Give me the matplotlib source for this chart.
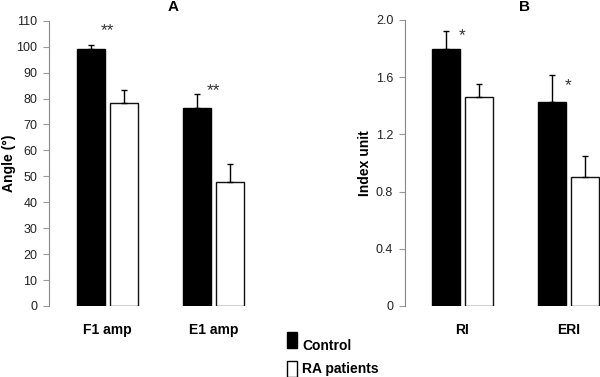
import matplotlib.pyplot as plt
import numpy as np
from matplotlib.patches import Rectangle

plt.rcParams['font.family'] = ['Liberation Sans', 'DejaVu Sans']

# panel A
cats_a = ['F1 amp', 'E1 amp']
control_a = [99.2, 76.2]
control_a_err = [1.6, 5.4]
ra_a = [78.2, 47.9]
ra_a_err = [5.1, 6.9]
stars_a = ['**', '**']
stars_a_y = [106.0, 83.0]

# panel B
cats_b = ['RI', 'ERI']
control_b = [1.80, 1.43]
control_b_err = [0.125, 0.185]
ra_b = [1.465, 0.905]
ra_b_err = [0.088, 0.145]
stars_b = ['*', '*']
stars_b_y = [1.89, 1.54]

legend_labels = ['Control', 'RA patients']
legend_colors = ['black', 'white']

W, H = 600, 377
fig = plt.figure(figsize=(W / 100, H / 100), dpi=100)

def px_axes(x0, y0, x1, y1):
    # pixel box (top-left origin) -> figure axes
    return fig.add_axes([x0 / W, 1 - y1 / H, (x1 - x0) / W, (y1 - y0) / H])

bw = 0.264
off = 0.156

def panel(ax, cats, ctrl, ctrl_err, ra, ra_err, stars, stars_y, xlim):
    x = np.arange(len(cats))
    kw = dict(capsize=2.5, error_kw=dict(elinewidth=1, capthick=1, ecolor='black'))
    ax.bar(x - off, ctrl, bw, color='black', edgecolor='black', linewidth=1,
           yerr=[np.zeros(len(ctrl)), ctrl_err], **kw)
    ax.bar(x + off, ra, bw, color='white', edgecolor='#111111', linewidth=1,
           yerr=[np.zeros(len(ra)), ra_err], **kw)
    for xi, s, sy in zip(x, stars, stars_y):
        ax.text(xi, sy, s, ha='center', va='center', fontsize=12.5, color='#333333')
    ax.set_xlim(*xlim)
    ax.set_xticks(x)
    ax.set_xticklabels(cats, fontsize=10, fontweight='bold')
    ax.tick_params(axis='x', length=0, pad=12)
    ax.tick_params(axis='y', length=4, width=0.8, color='#999999', labelsize=9,
                   labelcolor='#222222', pad=4.5)
    for s in ['top', 'right', 'bottom']:
        ax.spines[s].set_visible(False)
    ax.spines['left'].set_color('#888888')
    ax.spines['left'].set_linewidth(0.8)

ax1 = px_axes(49, 20.7, 260, 306)
panel(ax1, cats_a, control_a, control_a_err, ra_a, ra_a_err, stars_a, stars_a_y, (-0.552, 1.44))
ax1.set_ylim(0, 110)
ax1.set_yticks(np.arange(0, 111, 10))
ax1.set_ylabel('Angle (°)', fontsize=10, fontweight='bold', va='center')
ax1.yaxis.set_label_coords((9 - 49) / 211, 0.5)

ax2 = px_axes(405, 20, 600, 306)
panel(ax2, cats_b, control_b, control_b_err, ra_b, ra_b_err, stars_b, stars_b_y, (-0.542, 1.297))
ax2.set_ylim(0, 2.0)
ax2.set_yticks([0, 0.4, 0.8, 1.2, 1.6, 2.0])
ax2.set_yticklabels(['0', '0.4', '0.8', '1.2', '1.6', '2.0'])
ax2.set_ylabel('Index unit', fontsize=10, fontweight='bold', va='center')
ax2.yaxis.set_label_coords((365 - 405) / 195, 0.5)

fig.text(173 / W, 1 - 7 / H, 'A', ha='center', va='center', fontsize=11, fontweight='bold')
fig.text(525 / W, 1 - 7 / H, 'B', ha='center', va='center', fontsize=11, fontweight='bold')

# legend drawn by hand: tall boxes with text beside them
box_tops = [332, 361]
text_base = [350, 372.5]
for lab, col, top, base in zip(legend_labels, legend_colors, box_tops, text_base):
    fig.patches.append(Rectangle((287 / W, 1 - (top + 16) / H), 10 / W, 16 / H,
                                 transform=fig.transFigure, facecolor=col,
                                 edgecolor='black', linewidth=1))
    fig.text(302 / W, 1 - base / H, lab, ha='left', va='baseline',
             fontsize=10, fontweight='bold')

fig.savefig('out.png', dpi=100)
